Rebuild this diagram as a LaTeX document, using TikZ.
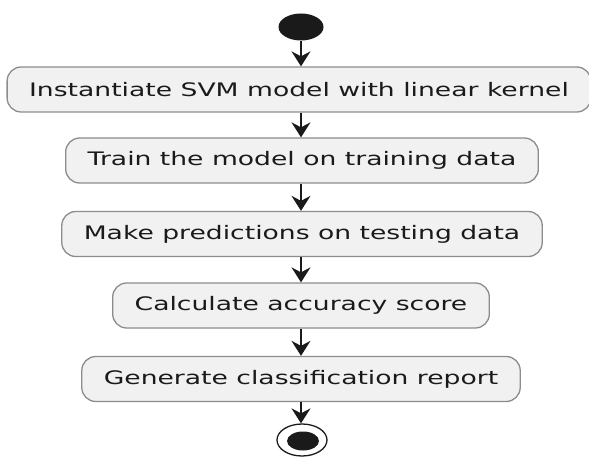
\documentclass[tikz,border=0pt]{standalone}
\usepackage{fontspec}
\newfontfamily\umlfont[FakeStretch=1.43]{DejaVu Sans}
\usetikzlibrary{arrows.meta}
\usetikzlibrary{shapes.geometric}
\definecolor{boxfill}{HTML}{F1F1F1}
\definecolor{boxline}{HTML}{8C8C8C}
\definecolor{ink}{HTML}{1A1A1A}

\begin{document}
\begin{tikzpicture}[x=1pt,y=-1pt,
	act/.style={draw=boxline, fill=boxfill, line width=1.3pt, rounded corners=14pt,
		minimum height=45pt, inner xsep=22pt, text=ink,
		font=\umlfont\fontsize{18.6}{20}\selectfont},
	flow/.style={draw=ink, line width=1.3pt, -{Stealth[length=15pt,width=19pt,inset=5pt]}}]

	\useasboundingbox (0,0) rectangle (589,457);

	%Start and end points
	\node [ellipse, fill=ink, minimum width=45pt, minimum height=27pt, inner sep=0pt](s) at (301,27) {};
	\node [ellipse, draw=ink, line width=1.3pt, fill=white, minimum width=50pt, minimum height=32pt, inner sep=0pt](e) at (302,440) {};
	\node [ellipse, fill=ink, minimum width=32pt, minimum height=19pt, inner sep=0pt](ei) at (303,441) {};

	%The activities
	\node [act](inst) at (299,89.5) {Instantiate SVM model with linear kernel};
	\node [act](train) at (302,160.5) {Train the model on training data};
	\node [act](pred) at (302,234) {Make predictions on testing data};
	\node [act](acc) at (301,305.5) {Calculate accuracy score};
	\node [act](rep) at (301,379) {Generate classification report};

	%Connecting them
	\draw [flow] (s) -- (s |- inst.north);
	\draw [flow] (s |- inst.south) -- (s |- train.north);
	\draw [flow] (s |- train.south) -- (s |- pred.north);
	\draw [flow] (s |- pred.south) -- (s |- acc.north);
	\draw [flow] (s |- acc.south) -- (s |- rep.north);
	\draw [flow] (s |- rep.south) -- (s |- e.north);

\end{tikzpicture}
\end{document}
